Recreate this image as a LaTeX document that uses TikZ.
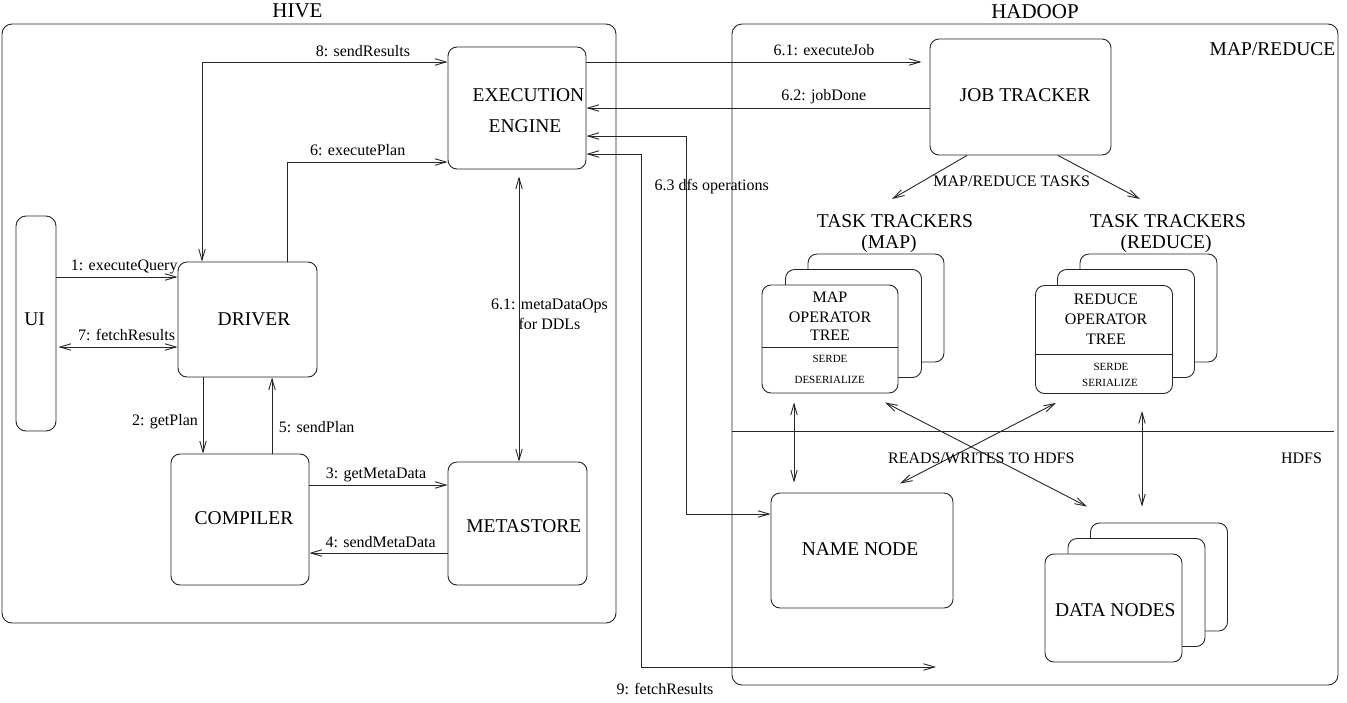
\documentclass[tikz,border=0pt]{standalone}
\usepackage{fontspec}
\setmainfont{Liberation Serif}
\usetikzlibrary{arrows.meta}
\begin{document}
\begin{tikzpicture}[x=1pt,y=-1pt,
  ln/.style={line width=0.9pt, draw=black!85},
  arr/.style={ln, -{Straight Barb[length=11pt,width=6.5pt]}},
  darr/.style={ln, {Straight Barb[length=11pt,width=6.5pt]}-{Straight Barb[length=11pt,width=6.5pt]}},
  box/.style={ln, rounded corners=9pt, fill=white, inner sep=0pt},
  bx/.style 2 args={box, minimum width=#1pt, minimum height=#2pt},
  big/.style={font=\fontsize{19.5}{21}\selectfont, inner sep=0pt, anchor=base},
  sm/.style={font=\fontsize{16}{19}\selectfont, inner sep=0pt, anchor=base},
  tiny/.style={font=\fontsize{11}{13}\selectfont, inner sep=0pt, anchor=base},
  ttl/.style={font=\fontsize{21}{23}\selectfont, inner sep=0pt, anchor=base},
]
\useasboundingbox (0,0) rectangle (1347,702);

% containers
\node[bx={614}{599}, fill=none, rounded corners=10pt] (hive) at (309,323.5) {};
\node[bx={606}{661}, fill=none, rounded corners=10pt] (hadoop) at (1035,354.5) {};
\draw[ln, shorten >=4pt] (hadoop.west |- 0,431) -- (hadoop.east |- 0,431);

% boxes
\node[bx={138}{122}] (exec) at (517,108) {};
\node[bx={40}{215}, rounded corners=10pt] (ui) at (36,323.5) {};
\node[bx={139}{115}] (driver) at (247.5,319.5) {};
\node[bx={138}{131}] (compiler) at (240,519.5) {};
\node[bx={139}{123}] (meta) at (517.5,523.5) {};
\node[bx={181}{116}] (jt) at (1020.5,97) {};
\node[bx={182}{115}] (nn) at (862,550.5) {};

\node[bx={136}{108}] (mapB) at (876,308) {};
\node[bx={136}{108}] (mapM) at (853.5,323.5) {};
\node[bx={136}{108}] (mapF) at (830,339) {};
\draw[ln] (mapF.west |- 0,347) -- (mapF.east |- 0,347);

\node[bx={137}{108}] (redB) at (1148.5,308) {};
\node[bx={137}{108}] (redM) at (1126,323.5) {};
\node[bx={137}{108}] (redF) at (1104,339.5) {};
\draw[ln] (redF.west |- 0,354) -- (redF.east |- 0,354);

\node[bx={137}{108}] (dataB) at (1159,577) {};
\node[bx={137}{108}] (dataM) at (1136.5,592.5) {};
\node[bx={137}{108}] (dataF) at (1113.5,608) {};

% free ends
\coordinate (fr) at (936,667);
\coordinate (mrL) at (892,199);
\coordinate (mrR) at (1140,199);

% connectors in HIVE
\draw[darr] (driver.north -| 202,0) |- (exec.west |- 0,62);
\draw[arr] (driver.north -| 287,0) |- (exec.west |- 0,162);
\draw[arr] (ui.east |- 0,277) -- (driver.west |- 0,277);
\draw[darr, shorten <=2pt] (ui.east |- 0,347) -- (driver.west |- 0,347);
\draw[arr] (driver.south -| 203,0) -- (compiler.north -| 203,0);
\draw[arr] (compiler.north -| 272,0) -- (driver.south -| 272,0);
\draw[arr] (compiler.east |- 0,485) -- (meta.west |- 0,485);
\draw[arr] (meta.west |- 0,553) -- (compiler.east |- 0,553);
\draw[darr, shorten <=7pt] (exec.south -| 519,0) -- (meta.north -| 519,0);

% connectors to HADOOP
\draw[arr, shorten >=8pt] (exec.east |- 0,62) -- (jt.west |- 0,62);
\draw[arr] (jt.west |- 0,108) -- (exec.east |- 0,108);
\draw[darr] (exec.east |- 0,136) -- ++(100,0) |- (nn.west |- 0,514);
\draw[darr] (exec.east |- 0,154) -- ++(55,0) |- (fr);
\draw[arr] (jt.south -| 967,0) -- (mrL);
\draw[arr] (jt.south -| 1058,0) -- (mrR);

% HDFS connectors
\draw[darr, shorten <=9pt, shorten >=10pt] (mapF.south -| 794,0) -- (nn.north -| 794,0);
\draw[darr] ([shift={(55,9)}]mapF.south) -- ([shift={(-72,-16)}]dataB.north);
\draw[darr] ([shift={(-48,9)}]redF.south) -- ([shift={(38,-9)}]nn.north);
\draw[darr] ([shift={(38,17)}]redF.south) -- ([shift={(-17,-16)}]dataB.north);

% titles
\node[ttl] (thive) at (297.5,17.5) {HIVE};
\node[ttl] (thadoop) at (1035,18) {HADOOP};
\node[big] (tmr) at (1272.5,55) {MAP/REDUCE};
\node[sm] (thdfs) at (1301.5,463) {HDFS};

% box texts
\node[big] (t1) at (528.5,101.5) {EXECUTION};
\node[big] (t2) at (525,132) {ENGINE};
\node[big] (tui) at (34.6,325) {UI};
\node[big] (tdrv) at (254,325) {DRIVER};
\node[big] (tcmp) at (244,524) {COMPILER};
\node[big] (tmeta) at (523.8,532) {METASTORE};
\node[big] (tjt) at (1025,101.5) {JOB TRACKER};
\node[big] (tnn) at (860,555.5) {NAME NODE};
\node[big] (tdn) at (1115.3,616.5) {DATA NODES};
\node[big] (ttm1) at (895,227) {TASK TRACKERS};
\node[big] (ttm2) at (889,248) {(MAP)};
\node[big] (ttr1) at (1168,227) {TASK TRACKERS};
\node[big] (ttr2) at (1166,248) {(REDUCE)};

\node[sm] (m1) at (830,302) {MAP};
\node[sm] (m2) at (830,322) {OPERATOR};
\node[sm] (m3) at (830,340.7) {TREE};
\node[tiny] (m4) at (830,362.7) {SERDE};
\node[tiny] (m5) at (829.7,383.3) {DESERIALIZE};

\node[sm] (r1) at (1105.8,304) {REDUCE};
\node[sm] (r2) at (1106,324.3) {OPERATOR};
\node[sm] (r3) at (1106,344) {TREE};
\node[tiny] (r4) at (1111,370) {SERDE};
\node[tiny] (r5) at (1110,386) {SERIALIZE};

% connector labels
\node[sm] (l8) at (363,56) {8: sendResults};
\node[sm] (l6) at (357.7,155) {6: executePlan};
\node[sm] (l1) at (124.2,270) {1: executeQuery};
\node[sm] (l7) at (126.6,340) {7: fetchResults};
\node[sm] (l2) at (165,425) {2: getPlan};
\node[sm] (l5) at (316.6,432.5) {5: sendPlan};
\node[sm] (l3) at (376,478) {3: getMetaData};
\node[sm] (l4) at (380.6,547) {4: sendMetaData};
\node[sm] (l61a) at (549.5,309.5) {6.1: metaDataOps};
\node[sm] (l61b) at (549.5,329) {for DDLs};
\node[sm] (l61j) at (824,55) {6.1: executeJob};
\node[sm] (l62) at (823.7,100) {6.2: jobDone};
\node[sm] (l63) at (711.7,190) {6.3 dfs operations};
\node[sm] (l9) at (665,694) {9: fetchResults};
\node[sm] (lmrt) at (1011.7,186) {MAP/REDUCE TASKS};
\node[sm] (lrw) at (981.3,463) {READS/WRITES TO HDFS};
\end{tikzpicture}
\end{document}
